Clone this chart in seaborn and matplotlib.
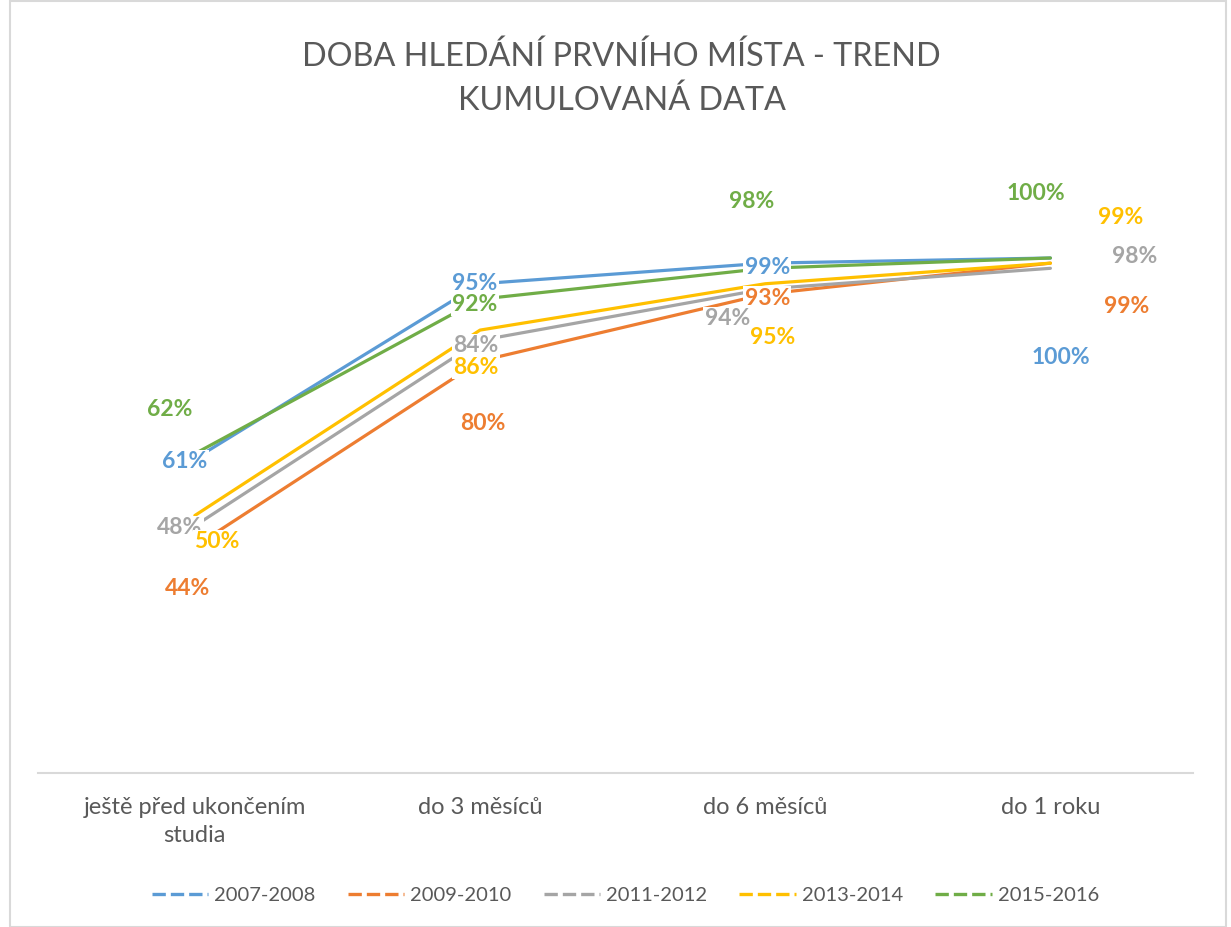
import matplotlib
matplotlib.use("Agg")
import matplotlib.pyplot as plt
import seaborn as sns
import pandas as pd
from matplotlib.lines import Line2D
from matplotlib.patches import Rectangle

categories = ["ještě před ukončením\nstudia", "do 3 měsíců", "do 6 měsíců", "do 1 roku"]
series_names = ["2007-2008", "2009-2010", "2011-2012", "2013-2014", "2015-2016"]
v_2007_2008 = [61, 95, 99, 100]
v_2009_2010 = [44, 80, 93, 99]
v_2011_2012 = [48, 84, 94, 98]
v_2013_2014 = [50, 86, 95, 99]
v_2015_2016 = [62, 92, 98, 100]
values = [v_2007_2008, v_2009_2010, v_2011_2012, v_2013_2014, v_2015_2016]

colors = ["#5B9BD5", "#ED7D31", "#A5A5A5", "#FFC000", "#70AD47"]

# label offsets in pixels (dx, dy up-positive), per series per category
label_offsets = {
    "2007-2008": [(-10, -3), (-5, 0), (2, -4), (10, -100)],
    "2009-2010": [(-7, -42), (3, -62), (2, -4), (76, -43)],
    "2011-2012": [(-15, -2), (-4, -5), (-38, -30), (84, 12)],
    "2013-2014": [(22, -26), (-4, -37), (7, -54), (70, 46)],
    "2015-2016": [(-25, 44), (-5, -5), (-14, 67), (-15, 65)],
}

rows = []
for name, vals in zip(series_names, values):
    for i, v in enumerate(vals):
        rows.append({"kat": i, "hodnota": v, "rok": name})
df = pd.DataFrame(rows)

sns.set_theme(style="white")
plt.rcParams["font.family"] = ["Lato", "DejaVu Sans"]

fig = plt.figure(figsize=(12.31, 9.27), dpi=100)
ax = fig.add_axes([38 / 1231, (927 - 773) / 927, 1155 / 1231, 618 / 927])

sns.lineplot(data=df, x="kat", y="hodnota", hue="rok", palette=colors,
             linewidth=2.3, sort=False, legend=False, ax=ax, zorder=2)

for name, vals, col in zip(series_names, values, colors):
    for i, v in enumerate(vals):
        dx, dy = label_offsets[name][i]
        ax.annotate(f"{v}%", xy=(i, v), xytext=(dx, dy), textcoords="offset pixels",
                    ha="center", va="center", fontsize=16.5, fontweight="bold", color=col,
                    zorder=5,
                    bbox=dict(boxstyle="square,pad=0.05", fc="white", ec="none"))

ax.set_xlim(-0.55, 3.5)
ax.set_ylim(0, 120)
ax.set_xticks(range(len(categories)))
ax.set_xticklabels(categories, fontsize=17, color="#595959", linespacing=1.45)
ax.tick_params(axis="x", length=0, pad=17)
ax.set_yticks([])
ax.set_xlabel("")
ax.set_ylabel("")
for s in ["top", "left", "right"]:
    ax.spines[s].set_visible(False)
ax.spines["bottom"].set_color("#D9D9D9")
ax.spines["bottom"].set_linewidth(1.5)

fig.text(0.505, 1 - 57 / 927, "DOBA HLEDÁNÍ PRVNÍHO MÍSTA - TREND", ha="center", va="center",
         fontsize=23.3, color="#595959", fontweight="normal")
fig.text(0.505, 1 - 101 / 927, "KUMULOVANÁ DATA", ha="center", va="center",
         fontsize=23.3, color="#595959", fontweight="normal")

handles = [Line2D([0], [0], color=c, lw=2.4, linestyle=(0, (4, 1.5))) for c in colors]
fig.legend(handles, series_names, loc="center", bbox_to_anchor=(0.508, 1 - 895 / 927),
           ncol=5, frameon=False, fontsize=14.5, labelcolor="#595959",
           handlelength=2.8, handletextpad=0.3, columnspacing=1.6)

fig.patches.append(Rectangle((10 / 1231, 0.0), 1216 / 1231, 0.999, transform=fig.transFigure,
                             fill=False, ec="#D9D9D9", lw=1.5))

fig.savefig("out.png", dpi=100, facecolor="white")
